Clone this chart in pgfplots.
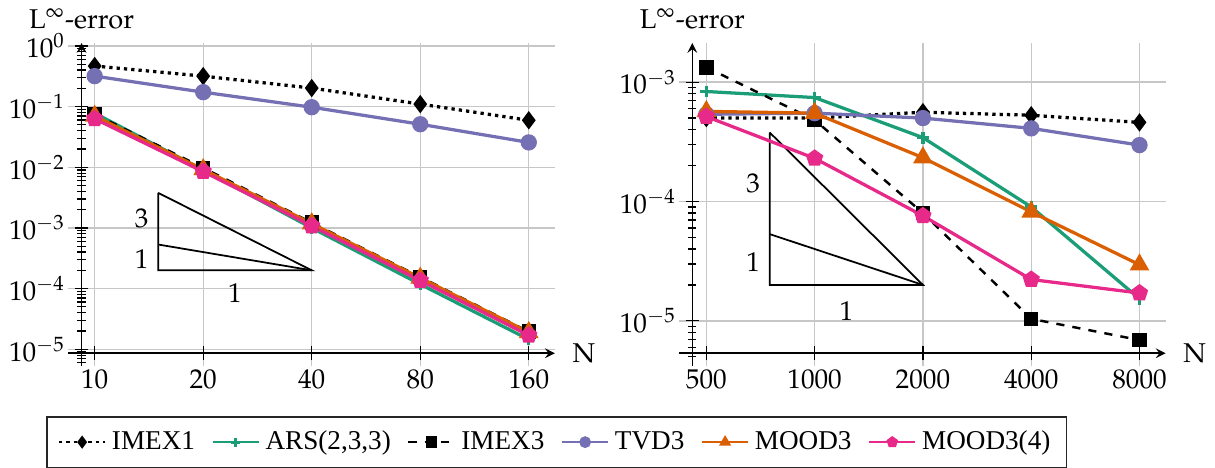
\documentclass[border=0pt]{standalone}
\usepackage[T1]{fontenc}
\usepackage{mathpazo}
\usepackage[no-math]{fontspec}
\setmainfont{Liberation Serif}
\usepackage{pgfplots}
\usepackage{pgfplotstable}
\pgfplotsset{compat=1.18}

\newcommand\pala{\fontencoding{T1}\fontfamily{pplx}\selectfont}

\definecolor{dkgreen}{HTML}{1B9E77}
\definecolor{dkorange}{HTML}{D95F02}
\definecolor{dkpurple}{HTML}{7570B3}
\definecolor{dkpink}{HTML}{E7298A}

% errors for the smooth problem (N = 10 ... 160)
\pgfplotstableread{
N    imexone  ars      imexthree tvd     mood     moodfour
10   0.467    0.078    0.075     0.318   0.070    0.063
20   0.318    0.0090   0.0098    0.173   0.0092   0.0085
40   0.202    0.00100  0.00122   0.0977  0.00118  0.00108
80   0.110    1.18e-4  1.55e-4   0.0512  1.50e-4  1.36e-4
160  0.0595   1.45e-5  1.95e-5   0.0257  1.90e-5  1.70e-5
}\smoothtab

% errors for the second problem (N = 500 ... 8000)
\pgfplotstableread{
N     imexone  ars      imexthree tvd     mood     moodfour
500   5.0e-4   8.35e-4  1.33e-3   5.38e-4 5.69e-4  5.15e-4
1000  5.0e-4   7.43e-4  4.82e-4   5.5e-4  5.5e-4   2.30e-4
2000  5.6e-4   3.43e-4  8.0e-5    5.0e-4  2.33e-4  7.59e-5
4000  5.28e-4  9.0e-5   1.04e-5   4.1e-4  8.18e-5  2.22e-5
8000  4.6e-4   1.53e-5  6.9e-6    2.97e-4 2.95e-5  1.71e-5
}\shocktab

\pgfplotsset{
  sIMEXone/.style={black, line width=1.2pt, dash pattern=on 1.2pt off 1.5pt, mark=diamond*, mark size=2.4pt, mark options={solid}},
  sARS/.style={dkgreen, line width=1.2pt, mark=+, mark size=2.2pt, mark options={solid, line width=1.2pt}},
  sIMEXthree/.style={black, line width=0.9pt, dashed, mark=square*, mark size=2.2pt, mark options={solid}},
  sTVD/.style={dkpurple, line width=1.2pt, mark=*, mark size=2.4pt},
  sMOOD/.style={dkorange, line width=1.2pt, mark=triangle*, mark size=3pt},
  sMOODfour/.style={dkpink, line width=1.2pt, mark=pentagon*, mark size=2.6pt},
  slope/.style={black, line width=0.65pt, no markers, forget plot},
}

\begin{document}
\begin{tikzpicture}
\begin{axis}[
  width=179pt, height=119pt, scale only axis,
  xmode=log, ymode=log, log basis x=2,
  axis lines=left,
  axis x line shift=-4.8pt, axis y line shift=-4.8pt,
  axis line style={line width=0.6pt},
  grid=major, major grid style={black!22, line width=0.5pt},
  xminorticks=false,
  tick align=center,
  every tick/.style={black, line width=0.45pt},
  major tick length=5pt, minor tick length=3pt,
  xlabel={\pala N}, ylabel={\pala L$^{\infty}$-error},
  every axis x label/.style={at={(axis description cs:1,0)}, anchor=west, yshift=4.8pt, xshift=3pt},
  every axis y label/.style={at={(axis description cs:0,1)}, anchor=south, xshift=4.8pt, yshift=1.5pt},
  xmin=8.46, xmax=189, ymin=5.24e-6, ymax=1.12,
  xtick={10,20,40,80,160}, xticklabels={$10$,$20$,$40$,$80$,$160$},
  legend columns=6,
  legend image post style={line width=0.9pt, mark size=1.7pt},
  legend style={at={(1.004,-0.155)}, anchor=north, draw=black!85, line width=0.5pt,
    inner xsep=4pt, inner ysep=3pt,
    /tikz/every even column/.append style={column sep=4pt}},
]
% slope triangle, order 3 against order 1
\addplot[slope] coordinates {(15,3.79e-3) (15,2e-4) (40,2e-4) (15,3.79e-3)};
\addplot[slope] coordinates {(15,5.33e-4) (40,2e-4)};
\node[anchor=east] at (axis cs:15,1.42e-3) {$3$};
\node[anchor=east] at (axis cs:15,3.1e-4) {$1$};
\node[anchor=north] at (axis cs:24.5,1.75e-4) {$1$};

\addplot[sIMEXone]   table[x=N, y=imexone]   {\smoothtab};
\addlegendentry{IMEX1}
\addplot[sARS]       table[x=N, y=ars]       {\smoothtab};
\addlegendentry{ARS(2,3,3)}
\addplot[sIMEXthree] table[x=N, y=imexthree] {\smoothtab};
\addlegendentry{IMEX3}
\addplot[sTVD]       table[x=N, y=tvd]       {\smoothtab};
\addlegendentry{TVD3}
\addplot[sMOOD]      table[x=N, y=mood]      {\smoothtab};
\addlegendentry{MOOD3}
\addplot[sMOODfour]  table[x=N, y=moodfour]  {\smoothtab};
\addlegendentry{MOOD3(4)}
\end{axis}

\begin{axis}[at={(224.8pt,0pt)},
  width=179pt, height=119pt, scale only axis,
  xmode=log, ymode=log, log basis x=2,
  axis lines=left,
  axis x line shift=-4.8pt, axis y line shift=-4.8pt,
  axis line style={line width=0.6pt},
  grid=major, major grid style={black!22, line width=0.5pt},
  xminorticks=false,
  tick align=center,
  every tick/.style={black, line width=0.45pt},
  major tick length=5pt, minor tick length=3pt,
  xlabel={\pala N}, ylabel={\pala L$^{\infty}$-error},
  every axis x label/.style={at={(axis description cs:1,0)}, anchor=west, yshift=4.8pt, xshift=3pt},
  every axis y label/.style={at={(axis description cs:0,1)}, anchor=south, xshift=4.8pt, yshift=1.5pt},
  xmin=420.5, xmax=9457, ymin=4.16e-6, ymax=2.13e-3,
  xtick={500,1000,2000,4000,8000}, xticklabels={$500$,$1000$,$2000$,$4000$,$8000$},
]
% slope triangle, order 3 against order 1
\addplot[slope] coordinates {(750,3.79e-4) (750,2e-5) (2000,2e-5) (750,3.79e-4)};
\addplot[slope] coordinates {(750,5.33e-5) (2000,2e-5)};
\node[anchor=east] at (axis cs:750,1.42e-4) {$3$};
\node[anchor=east] at (axis cs:750,3.1e-5) {$1$};
\node[anchor=north] at (axis cs:1225,1.75e-5) {$1$};

\addplot[sIMEXone]   table[x=N, y=imexone]   {\shocktab};
\addplot[sARS]       table[x=N, y=ars]       {\shocktab};
\addplot[sIMEXthree] table[x=N, y=imexthree] {\shocktab};
\addplot[sTVD]       table[x=N, y=tvd]       {\shocktab};
\addplot[sMOOD]      table[x=N, y=mood]      {\shocktab};
\addplot[sMOODfour]  table[x=N, y=moodfour]  {\shocktab};
\end{axis}
\end{tikzpicture}
\end{document}
